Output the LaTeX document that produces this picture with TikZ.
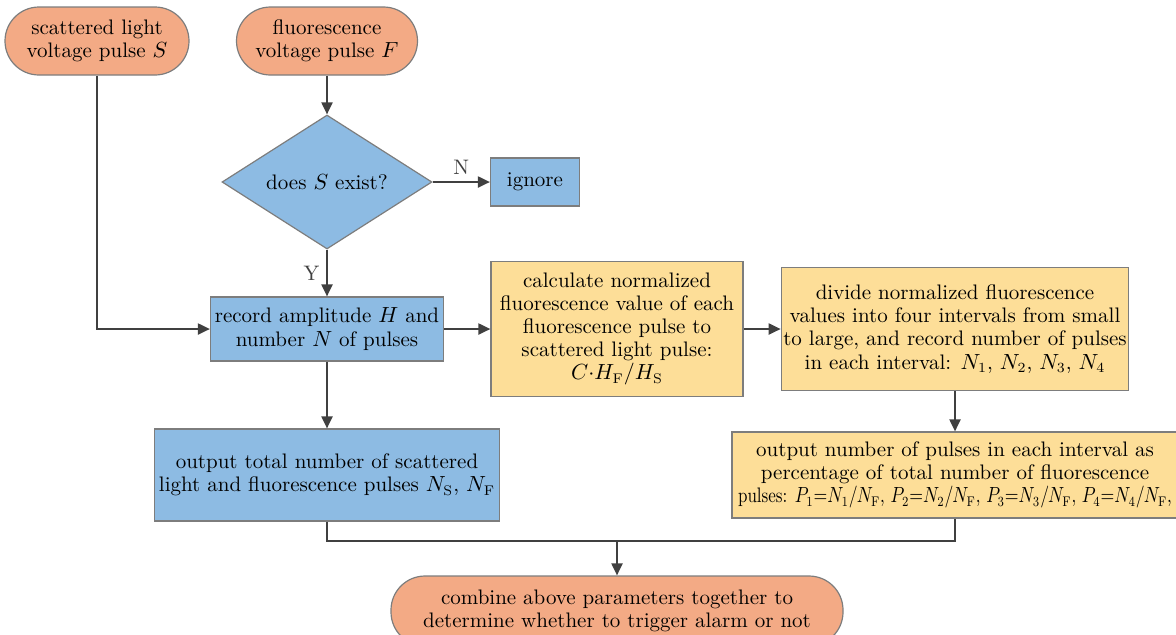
\documentclass[tikz,border=0pt]{standalone}
\usepackage{amssymb}
\usepackage{graphicx}
\usepackage{tikz}
\usetikzlibrary{arrows,arrows.meta,shapes.geometric}

\definecolor{termfill}{RGB}{243,170,133}
\definecolor{procfill}{RGB}{141,187,227}
\definecolor{calcfill}{RGB}{253,222,152}
\definecolor{edgegray}{RGB}{125,125,125}
\definecolor{linegray}{RGB}{64,64,64}
\newcommand{\boxfont}{\fontsize{10.5}{11.6}\selectfont}

\begin{document}
\begin{tikzpicture}[->,>={Triangle[length=6pt,width=5.5pt]},line width=1pt,color=linegray,auto,node distance=70pt]
        \tikzstyle{every node}=[font=\boxfont]
        \tikzstyle{terminal}=[rectangle,rounded corners=17pt,draw=edgegray,fill=termfill,text=black,line width=0.6pt,minimum height=34pt,inner sep=1pt,align=center]
        \tikzstyle{process}=[rectangle,draw=edgegray,fill=procfill,text=black,line width=0.6pt,inner sep=1pt,align=center]
        \tikzstyle{calcbox}=[rectangle,draw=edgegray,fill=calcfill,text=black,line width=0.6pt,inner sep=1pt,align=center]
        \tikzstyle{decision}=[diamond,aspect=1.6,draw=edgegray,fill=procfill,text=black,line width=0.6pt,minimum width=105pt,minimum height=67pt,inner sep=0pt]
        \useasboundingbox (0,0) rectangle (588pt,-317pt);
        \node[terminal,minimum width=92pt]  (sterm) at (48.5pt,-20.5pt) {scattered light\\voltage pulse $S$};
        \node[terminal,minimum width=90.5pt] (fterm) [right of=sterm,node distance=115pt] {fluorescence\\voltage pulse $F$};
        \node[decision]                      (exist) [below of=fterm,node distance=70.5pt] {does $S$ exist?};
        \node[process,minimum width=44.5pt,minimum height=24pt] (ignore) [right of=exist,node distance=104pt] {ignore};
        \node[process,minimum width=116.5pt,minimum height=32pt] (record) [below of=exist,node distance=73.5pt] {record amplitude $H$ and\\number $N$ of pulses};
        \node[calcbox,minimum width=126pt,minimum height=67.5pt] (calc) [right of=record,node distance=145pt] {calculate normalized\\fluorescence value of each\\fluorescence pulse to\\scattered light pulse:\\$C{\cdot}H_{\mathrm{F}}/H_{\mathrm{S}}$};
        \node[calcbox,minimum width=172.5pt,minimum height=61.5pt] (divide) [right of=calc,node distance=169pt] {divide normalized fluorescence\\values into four intervals from small\\to large, and record number of pulses\\in each interval: $N_1$, $N_2$, $N_3$, $N_4$};
        \node[calcbox,minimum width=223pt,minimum height=43pt] (pct) [below of=divide,node distance=73pt] {output number of pulses in each interval as\\percentage of total number of fluorescence\\\scalebox{0.81}[1]{pulses: $P_1{=}N_1/N_{\mathrm{F}}$, $P_2{=}N_2/N_{\mathrm{F}}$, $P_3{=}N_3/N_{\mathrm{F}}$, $P_4{=}N_4/N_{\mathrm{F}}$,}};
        \node[process,minimum width=172.5pt,minimum height=46pt] (total) [below of=record,node distance=73pt] {output total number of scattered\\light and fluorescence pulses $N_{\mathrm{S}}$, $N_{\mathrm{F}}$};
        \node[terminal,minimum width=226pt,minimum height=35pt] (final) [below of=calc,node distance=141pt] {combine above parameters together to\\determine whether to trigger alarm or not};
        \coordinate (merge) at ([yshift=17pt]final.north);
        \path   (fterm) edge                    (exist)
        (exist) edge node {N}           (ignore)
        edge node[swap] {Y}     (record)
        (record) edge                   (calc)
        edge                    (total)
        (calc) edge                     (divide)
        (divide) edge                   (pct)
        (merge) edge                    (final);
        \draw (sterm) |- (record);
        \draw[-] (total) |- (merge) -| (pct);
    \end{tikzpicture}
\end{document}
